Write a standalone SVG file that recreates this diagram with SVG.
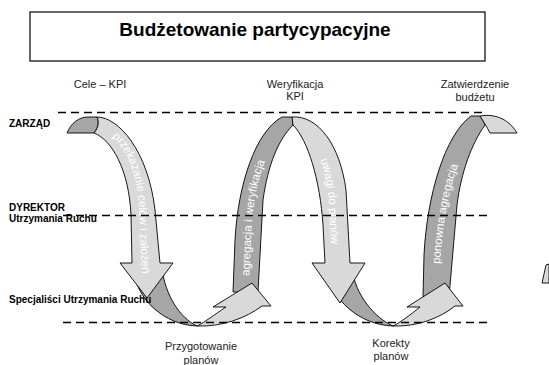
<svg xmlns="http://www.w3.org/2000/svg" width="549" height="365" viewBox="0 0 549 365">
  <style>
    .title { font: bold 19px "Liberation Sans", Arial, sans-serif; fill: #000; }
    .lane { font: bold 10px "Liberation Sans", Arial, sans-serif; fill: #000; }
    .step { font: 11px "Liberation Sans", Arial, sans-serif; fill: #222; }
    .band { font: 11.5px "Liberation Sans", Arial, sans-serif; fill: #fff; }
    .dark { fill: #a6a6a6; stroke: #000; stroke-width: 0.9; stroke-linejoin: round; }
    .light { fill: #d9d9d9; stroke: #000; stroke-width: 0.9; stroke-linejoin: round; }
    .lane-line { stroke: #000; stroke-width: 1.6; stroke-dasharray: 8 5; fill: none; }
  </style>
  <defs>
    <path id="p-a1" d="M107,134 C124,143 135,167 138.5,201 L142.5,285"/>
    <path id="p-a2-up" d="M249,284 L251,240 C252,205 258,170 275,140"/>
    <path id="p-a2-down" d="M311,140 C320,155 328,178 329,205 L333,275"/>
    <path id="p-a3-up" d="M439,292 L440,265 C442,225 450,180 465,148"/>
  </defs>

  <rect width="549" height="365" fill="#fff"/>

  <!-- title -->
  <g id="title">
    <rect x="30" y="12" width="455" height="49" fill="#fff" stroke="#000" stroke-width="1.2"/>
    <text class="title" x="255" y="36" text-anchor="middle">Budżetowanie partycypacyjne</text>
  </g>

  <!-- ribbon arrows, back to front -->
  <g id="connectors">
    <!-- third arch: ponowna agregacja -->
    <g id="arch-3">
      <path class="dark" d="M423,297 L424,255 C427,195 445,135 471,116 L480,116 C482,119 484,122 485,125 C472,143 461,172 457,205 L449,297 Z"/>
      <path class="light" d="M480,116 C497,113 510,121 517,133 L490,133 C487,127 483,121 480,116 Z"/>
      <text class="band"><textPath href="#p-a3-up" startOffset="28">ponowna agregacja</textPath></text>
    </g>
    <!-- second U-turn: korekty -->
    <g id="uturn-2">
      <path class="dark" d="M327,268 C330,300 360,325 393,326 C375,318 355,295 352,268 Z"/>
      <path class="light" d="M393,326 C417,327 440,318 455,306 L463,306 L445,283 L407,307 L420,307 C410,315 401,322 393,326 Z"/>
    </g>
    <!-- second arch: agregacja / uwagi -->
    <g id="arch-2">
      <path class="dark" d="M233,292 L235,240 C238,185 255,132 282,117 L292,117 C293,120 293,122 293,125 C278,140 268,165 263,200 L258,292 Z"/>
      <path class="light" d="M292,117 C318,115 340,145 346,190 L350,263 L365,263 L340,303 L312,263 L325,263 L323,225 C320,180 308,140 293,125 Z"/>
      <text class="band"><textPath href="#p-a2-up" startOffset="8">agregacja i weryfikacja</textPath></text>
      <text class="band"><textPath href="#p-a2-down" startOffset="22">uwagi do planów</textPath></text>
    </g>
    <!-- first U-turn: przygotowanie -->
    <g id="uturn-1">
      <path class="dark" d="M133,268 C136,300 165,325 197,326 C180,318 165,295 162,268 Z"/>
      <path class="light" d="M197,326 C222,327 246,318 262,306 L271,306 L252,283 L213,307 L226,307 C214,315 205,322 197,326 Z"/>
    </g>
    <!-- first arch: przekazanie celów -->
    <g id="arch-1">
      <path class="dark" d="M67,133 C71,123 79,117 88,117 L97,117 C99,121 99,127 94,133 Z"/>
      <path class="light" d="M97,117 C118,117 148,150 155,210 L160,263 L173,263 L147,298 L120,263 L132,263 L131,215 C129,170 112,140 94,133 C99,127 99,121 97,117 Z"/>
      <text class="band"><textPath href="#p-a1" startOffset="6">przekazanie celów i założeń</textPath></text>
    </g>
    <!-- edge fragment -->
    <path class="light" d="M542,283 L546,265 L549,264 L549,283 Z"/>
  </g>

  <!-- lane boundaries -->
  <g id="lanes">
    <line class="lane-line" x1="58" y1="112.5" x2="485" y2="112.5"/>
    <line class="lane-line" x1="63" y1="215.5" x2="489" y2="215.5"/>
    <line class="lane-line" x1="63" y1="322.5" x2="489" y2="322.5"/>
  </g>

  <!-- lane labels -->
  <g id="lane-zarzad"><text class="lane" x="9" y="127">ZARZĄD</text></g>
  <g id="lane-dyrektor">
    <text class="lane" x="9" y="211">DYREKTOR</text>
    <text class="lane" x="9" y="222">Utrzymania Ruchu</text>
  </g>
  <g id="lane-specjalisci"><text class="lane" x="9" y="303">Specjaliści Utrzymania Ruchu</text></g>

  <!-- step labels -->
  <g id="step-cele"><text class="step" x="100" y="88" text-anchor="middle">Cele – KPI</text></g>
  <g id="step-weryfikacja">
    <text class="step" x="295" y="88" text-anchor="middle">Weryfikacja</text>
    <text class="step" x="295" y="100" text-anchor="middle">KPI</text>
  </g>
  <g id="step-zatwierdzenie">
    <text class="step" x="475" y="88" text-anchor="middle">Zatwierdzenie</text>
    <text class="step" x="475" y="101" text-anchor="middle">budżetu</text>
  </g>
  <g id="step-przygotowanie">
    <text class="step" x="201" y="350" text-anchor="middle">Przygotowanie</text>
    <text class="step" x="201" y="364" text-anchor="middle">planów</text>
  </g>
  <g id="step-korekty">
    <text class="step" x="391" y="347" text-anchor="middle">Korekty</text>
    <text class="step" x="391" y="360" text-anchor="middle">planów</text>
  </g>
</svg>
